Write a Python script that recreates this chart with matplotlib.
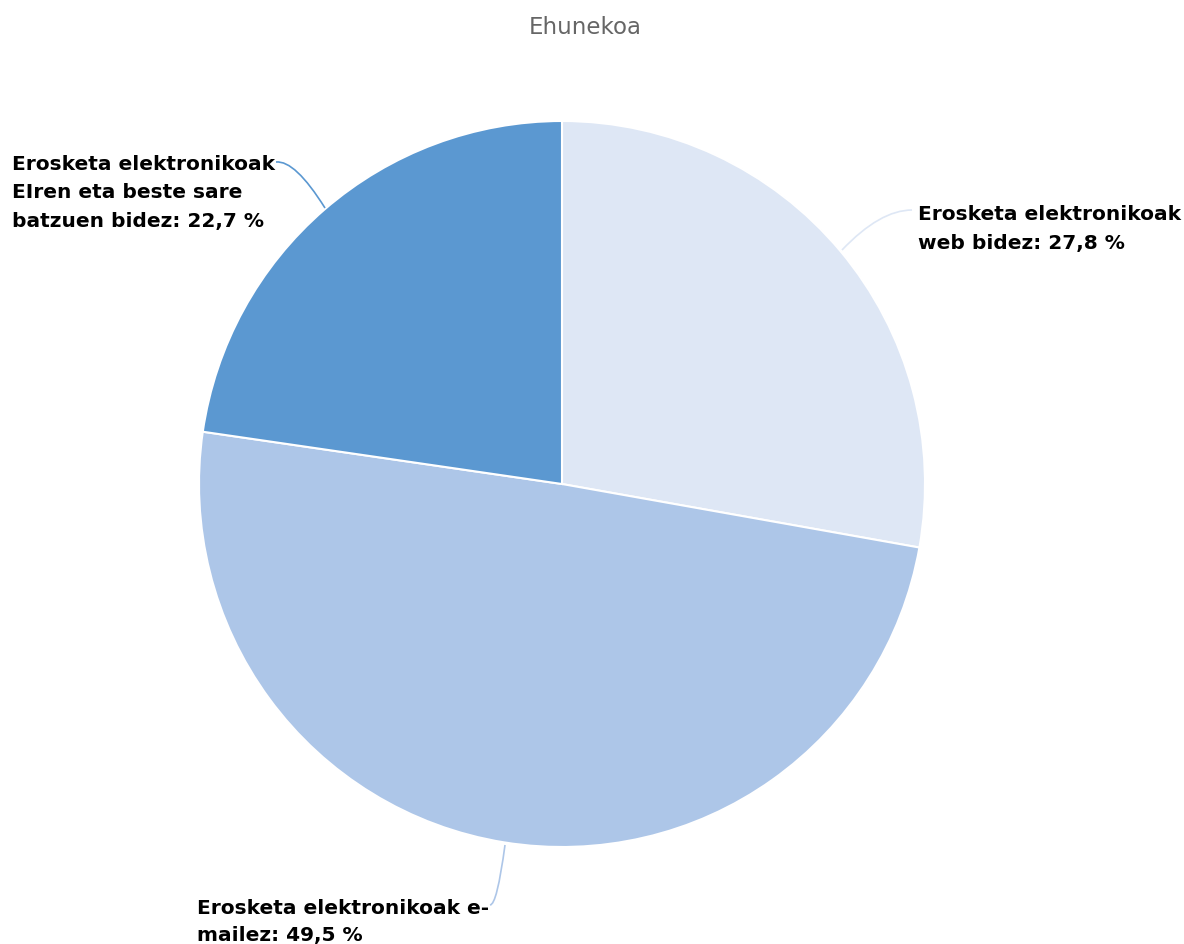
import matplotlib.pyplot as plt
from matplotlib.path import Path
from matplotlib.patches import PathPatch

# datuak
categories = ['Erosketa elektronikoak\nweb bidez',
              'Erosketa elektronikoak e-\nmailez',
              'Erosketa elektronikoak\nEIren eta beste sare\nbatzuen bidez']
values = [27.8, 49.5, 22.7]
colors = ['#dee7f5', '#adc6e8', '#5b98d1']

W, H = 1184, 944
fig = plt.figure(figsize=(W / 100, H / 100), dpi=100)
ax = fig.add_axes([0, 0, 1, 1])

cx, cy, r = 562, H - 484, 363
wedges, _ = ax.pie(values, colors=colors, startangle=90, counterclock=False,
                   center=(cx, cy), radius=r,
                   wedgeprops=dict(edgecolor='white', linewidth=1.5))
ax.set_xlim(0, W)
ax.set_ylim(0, H)
ax.set_aspect('equal')
ax.axis('off')

fig.text(585 / W, 1 - 28 / H, 'Ehunekoa', ha='center', va='center',
         fontsize=16.5, color='#666666')

labels = [f"{c}: {v:.1f} %".replace('.', ',') for c, v in zip(categories, values)]

FS = 14.5
LS = 1.6


def connector(p0, c, p1, color):
    path = Path([p0, c, p1], [Path.MOVETO, Path.CURVE3, Path.CURVE3])
    ax.add_patch(PathPatch(path, fill=False, edgecolor=color, lw=1.2))


# etiketak eta lerroak
connector((842, H - 250), (880, H - 210), (912, H - 210), colors[0])
ax.text(918, H - 229, labels[0], ha='left', va='center', fontsize=FS,
        fontweight='bold', color='black', linespacing=LS)

connector((505, H - 845), (497, H - 905), (490, H - 905), colors[1])
ax.text(197, H - 922, labels[1], ha='left', va='center', fontsize=FS,
        fontweight='bold', color='black', linespacing=LS)

connector((325, H - 208), (295, H - 160), (276, H - 162), colors[2])
ax.text(12, H - 193, labels[2], ha='left', va='center', fontsize=FS,
        fontweight='bold', color='black', linespacing=LS)

fig.savefig('out.png', dpi=100, facecolor='white')
